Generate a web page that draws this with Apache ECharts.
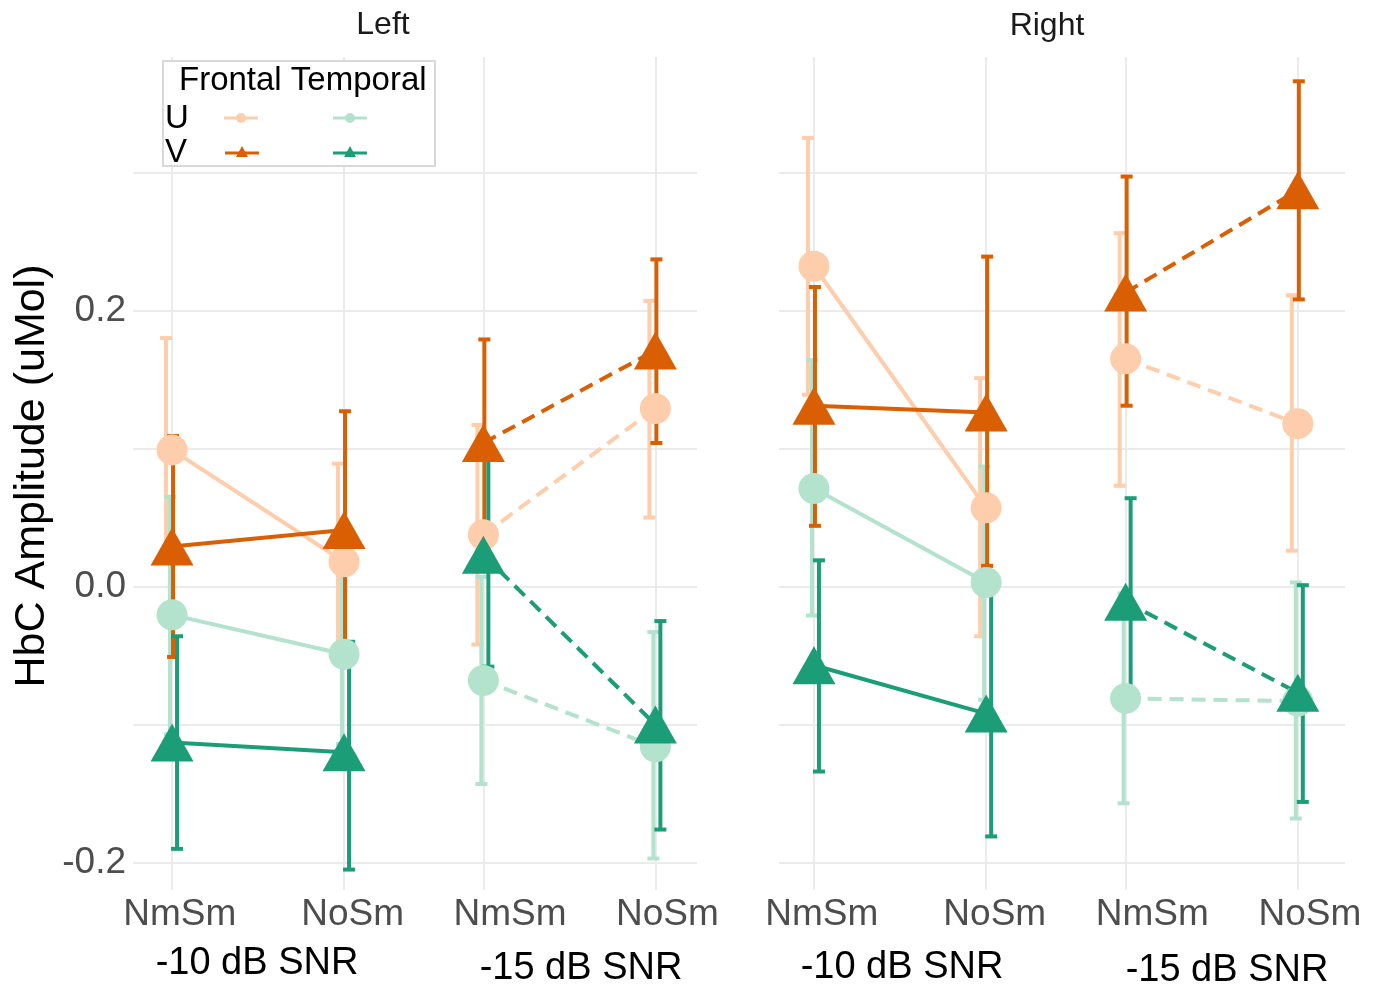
<!DOCTYPE html>
<html><head><meta charset="utf-8">
<script src="https://cdn.jsdelivr.net/npm/echarts@6/dist/echarts.min.js"></script>
<style>html,body{margin:0;padding:0;background:#fff}#c{width:1374px;height:985px}</style>
</head><body><div id="c"></div>
<script>
// ---------------- data ----------------
const panels = ['Left', 'Right'];
const xLabels = ['NmSm', 'NoSm', 'NmSm', 'NoSm'];
const snrLabels = ['-10 dB SNR', '-15 dB SNR'];
const xPos = [1, 2, 2.81, 3.81];            // x-scale value of each condition
const yTickLabels = [-0.2, 0.0, 0.2];
const yGridValues = [-0.2, -0.1, 0.0, 0.1, 0.2, 0.3];
const legendCols = ['Frontal', 'Temporal'];
const legendRows = ['U', 'V'];

// Left panel
const leftUFrontal      = [0.099, 0.018, 0.0375, 0.129];
const leftUFrontalLow   = [0.018, -0.053, -0.042, 0.050];
const leftUFrontalHigh  = [0.180, 0.089, 0.117, 0.207];
const leftVFrontal      = [0.029, 0.041, 0.104, 0.171];
const leftVFrontalLow   = [-0.051, -0.041, 0.029, 0.104];
const leftVFrontalHigh  = [0.109, 0.127, 0.179, 0.237];
const leftUTemporal     = [-0.0205, -0.049, -0.068, -0.116];
const leftUTemporalLow  = [-0.107, -0.114, -0.143, -0.197];
const leftUTemporalHigh = [0.065, 0.016, 0.007, -0.033];
const leftVTemporal     = [-0.113, -0.120, 0.023, -0.100];
const leftVTemporalLow  = [-0.190, -0.205, -0.058, -0.176];
const leftVTemporalHigh = [-0.036, -0.040, 0.097, -0.025];

// Right panel
const rightUFrontal      = [0.232, 0.057, 0.165, 0.118];
const rightUFrontalLow   = [0.139, -0.036, 0.073, 0.026];
const rightUFrontalHigh  = [0.325, 0.151, 0.256, 0.211];
const rightVFrontal      = [0.131, 0.126, 0.213, 0.287];
const rightVFrontalLow   = [0.044, 0.015, 0.131, 0.208];
const rightVFrontalHigh  = [0.217, 0.239, 0.297, 0.366];
const rightUTemporal     = [0.071, 0.003, -0.081, -0.083];
const rightUTemporalLow  = [-0.021, -0.082, -0.157, -0.168];
const rightUTemporalHigh = [0.164, 0.087, -0.005, 0.003];
const rightVTemporal     = [-0.057, -0.092, -0.011, -0.077];
const rightVTemporalLow  = [-0.134, -0.181, -0.086, -0.156];
const rightVTemporalHigh = [0.019, -0.003, 0.064, 0.001];

// ---------------- styling / layout ----------------
const FONT = 'Liberation Sans, Arial, sans-serif';
const groups = [
  { key: 'UF', color: '#FDCDAC', symbol: 'circle',   size: 31,       dodge: -6 },
  { key: 'UT', color: '#B3E2CD', symbol: 'circle',   size: 31,       dodge: -2 },
  { key: 'VF', color: '#D95F02', symbol: 'triangle', size: [43, 38], dodge: 1 },
  { key: 'VT', color: '#1B9E77', symbol: 'triangle', size: [43, 38], dodge: 5 }
];
const panelData = [
  { UF: [leftUFrontal, leftUFrontalLow, leftUFrontalHigh],
    UT: [leftUTemporal, leftUTemporalLow, leftUTemporalHigh],
    VF: [leftVFrontal, leftVFrontalLow, leftVFrontalHigh],
    VT: [leftVTemporal, leftVTemporalLow, leftVTemporalHigh] },
  { UF: [rightUFrontal, rightUFrontalLow, rightUFrontalHigh],
    UT: [rightUTemporal, rightUTemporalLow, rightUTemporalHigh],
    VF: [rightVFrontal, rightVFrontalLow, rightVFrontalHigh],
    VT: [rightVTemporal, rightVTemporalLow, rightVTemporalHigh] }
];
const layout = [
  { left: 133, width: 564, xMin: 0.773, xMax: 4.052 },
  { left: 779, width: 566, xMin: 0.797, xMax: 4.084 }
];
const labelShift = [0.045, 0.05, 0.155, 0.07];
const labelPos = xPos.map((x, i) => +(x + labelShift[i]).toFixed(3));
const Y_MIN = -0.2198, Y_MAX = 0.3836;
const GRID_COLOR = '#EBEBEB';

const grids = [], xAxes = [], yAxes = [], series = [];
layout.forEach((L, p) => {
  grids.push({ left: L.left, top: 57, width: L.width, height: 833 });
  xAxes.push({
    type: 'value', gridIndex: p, min: L.xMin, max: L.xMax,
    axisLine: { show: false },
    axisTick: { show: false, customValues: xPos },
    splitLine: { show: true, lineStyle: { color: GRID_COLOR, width: 2 } },
    axisLabel: {
      customValues: labelPos, margin: 6, fontSize: 37, color: '#4D4D4D', fontFamily: FONT,
      formatter: v => { const i = labelPos.findIndex(q => Math.abs(q - v) < 1e-6); return i >= 0 ? xLabels[i] : ''; }
    }
  });
  yAxes.push({
    type: 'value', gridIndex: p, min: Y_MIN, max: Y_MAX,
    axisLine: { show: false },
    axisTick: { show: false, customValues: yGridValues },
    splitLine: { show: true, lineStyle: { color: GRID_COLOR, width: 2 } },
    axisLabel: {
      show: p === 0, customValues: yTickLabels, margin: 7, fontSize: 37, color: '#4D4D4D', fontFamily: FONT,
      formatter: v => (Math.abs(v) < 1e-9 ? 0 : v).toFixed(1)
    }
  });
});

// error bars (drawn first)
panelData.forEach((pd, p) => {
  groups.forEach(g => {
    const [m, lo, hi] = pd[g.key];
    series.push({
      type: 'custom', xAxisIndex: p, yAxisIndex: p, silent: true, z: 2,
      data: xPos.map((x, i) => [x, lo[i], hi[i]]),
      encode: { x: 0, y: [1, 2] },
      renderItem: (params, api) => {
        const x = api.value(0);
        const a = api.coord([x, api.value(1)]);
        const b = api.coord([x, api.value(2)]);
        const cx = a[0] + g.dodge, hw = 6;
        const st = { stroke: g.color, lineWidth: 4 };
        return { type: 'group', children: [
          { type: 'line', shape: { x1: cx, y1: b[1], x2: cx, y2: a[1] }, style: st },
          { type: 'line', shape: { x1: cx - hw, y1: b[1], x2: cx + hw, y2: b[1] }, style: st },
          { type: 'line', shape: { x1: cx - hw, y1: a[1], x2: cx + hw, y2: a[1] }, style: st }
        ] };
      }
    });
  });
});
// connecting lines
panelData.forEach((pd, p) => {
  groups.forEach(g => {
    const m = pd[g.key][0];
    [[0, 1, 'solid'], [2, 3, [14, 8]]].forEach(([i0, i1, type]) => {
      series.push({
        type: 'line', xAxisIndex: p, yAxisIndex: p, silent: true, z: 3,
        symbol: 'none', animation: false,
        data: [[xPos[i0], m[i0]], [xPos[i1], m[i1]]],
        lineStyle: { color: g.color, width: 4, type: type, cap: 'butt' }
      });
    });
  });
});
// points
panelData.forEach((pd, p) => {
  groups.forEach(g => {
    const m = pd[g.key][0];
    series.push({
      type: 'scatter', xAxisIndex: p, yAxisIndex: p, silent: true, z: 4,
      symbol: g.symbol, symbolSize: g.size,
      data: xPos.map((x, i) => [x, m[i]]),
      itemStyle: { color: g.color, opacity: 1 }
    });
  });
});

// ---------------- graphic text & legend ----------------
const graphic = [];
const txt = (text, x, y, size, opts = {}) => ({
  type: 'text', x, y, z: 100, rotation: opts.rotation || 0,
  style: { text, fontSize: size, fontFamily: FONT, fill: opts.fill || '#000',
           align: opts.align || 'center', verticalAlign: 'middle' }
});
graphic.push(txt(panels[0], 383, 25, 32, { fill: '#1A1A1A' }));
graphic.push(txt(panels[1], 1047, 26, 32, { fill: '#1A1A1A' }));
graphic.push(txt(snrLabels[0], 257, 964, 38));
graphic.push(txt(snrLabels[1], 581, 969, 38));
graphic.push(txt(snrLabels[0], 902, 968, 38));
graphic.push(txt(snrLabels[1], 1227, 971, 38));
graphic.push(txt('HbC Amplitude (uMol)', 32, 476, 43, { rotation: Math.PI / 2 }));

// legend box
graphic.push({ type: 'rect', z: 99, shape: { x: 163, y: 61, width: 272, height: 105 },
  style: { fill: '#fff', stroke: '#D9D9D9', lineWidth: 2 } });
graphic.push(txt(legendCols[0] + ' ' + legendCols[1], 179, 81, 33, { align: 'left' }));
graphic.push(txt(legendRows[0], 165, 119, 33, { align: 'left' }));
graphic.push(txt(legendRows[1], 165, 153, 33, { align: 'left' }));
const keyPos = { UF: [241, 118], UT: [350, 118], VF: [242, 153], VT: [350, 153] };
groups.forEach(g => {
  const [cx, cy] = keyPos[g.key];
  graphic.push({ type: 'line', z: 100, shape: { x1: cx - 17, y1: cy, x2: cx + 17, y2: cy },
    style: { stroke: g.color, lineWidth: 3 } });
  if (g.symbol === 'circle') {
    graphic.push({ type: 'circle', z: 101, shape: { cx, cy, r: 5 }, style: { fill: g.color } });
  } else {
    graphic.push({ type: 'polygon', z: 101, shape: { points: [[cx, cy - 7], [cx - 6, cy + 4], [cx + 6, cy + 4]] },
      style: { fill: g.color } });
  }
});

const chart = echarts.init(document.getElementById('c'), null, { renderer: 'canvas' });
chart.setOption({
  animation: false,
  backgroundColor: '#fff',
  grid: grids, xAxis: xAxes, yAxis: yAxes, series, graphic
});
</script></body></html>
